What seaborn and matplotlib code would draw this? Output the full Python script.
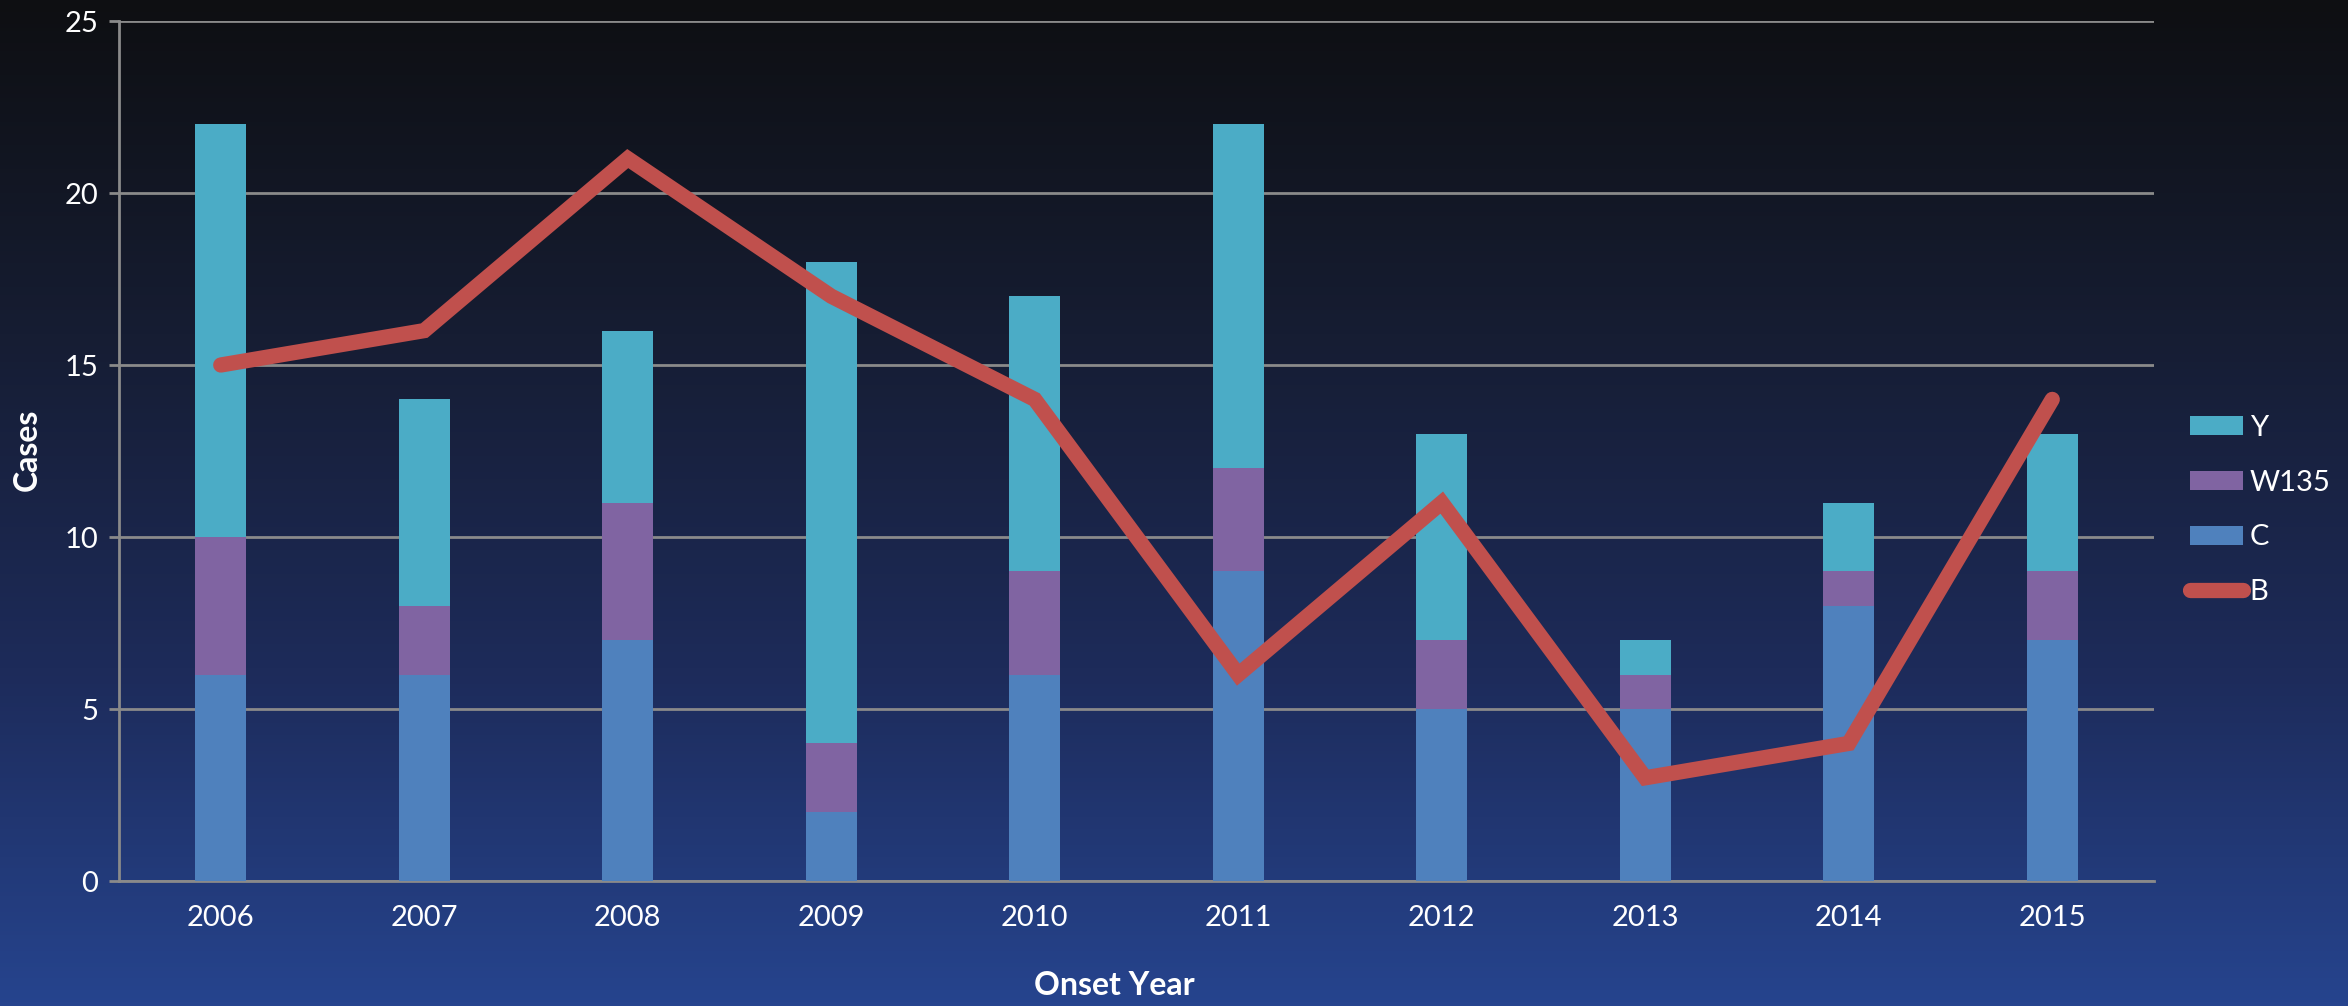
import numpy as np
import pandas as pd
import seaborn as sns
import matplotlib.pyplot as plt
from matplotlib.colors import LinearSegmentedColormap

years = ['2006', '2007', '2008', '2009', '2010', '2011', '2012', '2013', '2014', '2015']
c_cases = [6, 6, 7, 2, 6, 9, 5, 5, 8, 7]
w135_cases = [4, 2, 4, 2, 3, 3, 2, 1, 1, 2]
y_cases = [12, 6, 5, 14, 8, 10, 6, 1, 2, 4]
b_cases = [15, 16, 21, 17, 14, 6, 11, 3, 4, 14]

sns.set_style('white')
plt.rcParams['font.family'] = ['Lato', 'DejaVu Sans']

df = pd.DataFrame({'year': years, 'C': c_cases, 'W135': w135_cases, 'Y': y_cases, 'B': b_cases})
df['cw'] = df['C'] + df['W135']
df['total'] = df['cw'] + df['Y']

fig = plt.figure(figsize=(23.48, 10.06), dpi=100)

# gradient background
bg = fig.add_axes([0, 0, 1, 1], zorder=-10)
cmap = LinearSegmentedColormap.from_list('bg', ['#0e0f12', '#161d33', '#1d2b5a', '#26448e'])
bg.imshow(np.linspace(0, 1, 256).reshape(-1, 1), aspect='auto', cmap=cmap, extent=[0, 1, 0, 1], origin='upper')
bg.set_axis_off()

ax = fig.add_axes([119 / 2348, 1 - 881 / 1006, 2035 / 2348, 860 / 1006])
ax.set_facecolor('none')

# stacked bars drawn back to front
sns.barplot(data=df, x='year', y='total', color='#4bacc6', width=0.25, saturation=1, linewidth=0, label='Y', ax=ax, zorder=3)
sns.barplot(data=df, x='year', y='cw', color='#8064a2', width=0.25, saturation=1, linewidth=0, label='W135', ax=ax, zorder=3)
sns.barplot(data=df, x='year', y='C', color='#4f81bd', width=0.25, saturation=1, linewidth=0, label='C', ax=ax, zorder=3)

pos = np.arange(len(years))
sns.lineplot(x=pos, y=df['B'], color='#c0504d', linewidth=11, solid_capstyle='round', solid_joinstyle='miter', label='B', ax=ax, zorder=4)

ax.set_ylim(0, 25)
ax.set_xlim(-0.5, len(years) - 0.5)
ax.set_yticks([0, 5, 10, 15, 20, 25])
ax.yaxis.grid(True, color='#8a8a8a', linewidth=2, zorder=0)
ax.set_axisbelow(True)
for s in ['top', 'right']:
    ax.spines[s].set_visible(False)
for s in ['left', 'bottom']:
    ax.spines[s].set_color('#8a8a8a')
    ax.spines[s].set_linewidth(2)
ax.tick_params(axis='y', colors='#8a8a8a', labelcolor='white', labelsize=21, length=7, width=2, pad=8, left=True)
ax.tick_params(axis='x', labelcolor='white', labelsize=21, length=0, pad=17)

ax.set_xlabel('Onset Year', color='white', fontsize=23, fontweight='bold', va='center')
ax.set_ylabel('Cases', color='white', fontsize=23, fontweight='bold', va='center')
ax.xaxis.set_label_coords(0.489, -0.122)
ax.yaxis.set_label_coords(-0.0452, 0.501)

handles, labels = ax.get_legend_handles_labels()
order = [labels.index(k) for k in ['Y', 'W135', 'C', 'B']]
ax.legend([handles[i] for i in order], [labels[i] for i in order], loc='center left',
          bbox_to_anchor=(2190 / 2348, 0.493), bbox_transform=fig.transFigure,
          frameon=False, fontsize=21, labelcolor='white', borderpad=0, borderaxespad=0,
          handlelength=1.8, handleheight=0.62, handletextpad=0.25, labelspacing=0.98)

fig.savefig('out.png', dpi=100)
